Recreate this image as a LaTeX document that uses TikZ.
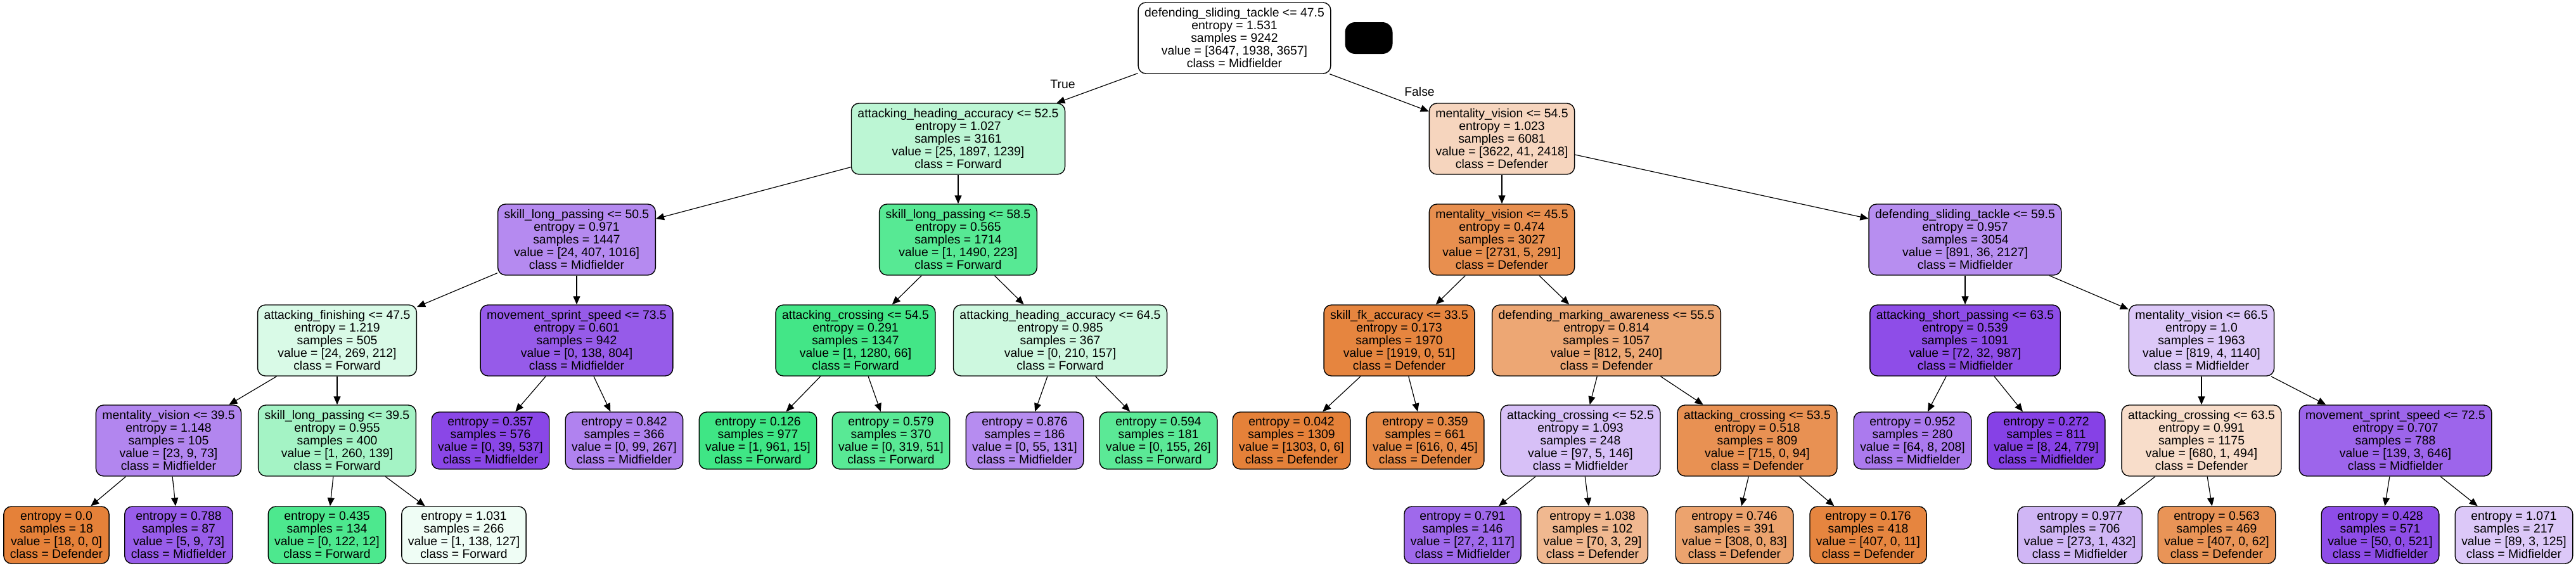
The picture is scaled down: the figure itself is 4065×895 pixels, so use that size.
\documentclass[tikz,border=0pt]{standalone}
\usepackage{fontspec}
\setmainfont{Liberation Sans}
\usepackage{tikz}
\usetikzlibrary{arrows.meta}
\definecolor{defc}{RGB}{229,129,57}
\definecolor{fwdc}{RGB}{57,229,129}
\definecolor{midc}{RGB}{129,57,229}
\newcommand\treefont{\fontsize{9.7}{10}\selectfont}
\tikzset{
  splitbox/.style={draw=black,line width=0.7pt,rounded corners=6pt,align=center,
     inner xsep=5pt,inner ysep=2pt,minimum height=56pt,font=\treefont},
  leafbox/.style={splitbox,minimum height=45pt},
  treeedge/.style={-{Triangle[length=6.5pt,width=5.5pt]},line width=0.6pt},
}

\begin{document}
\begin{tikzpicture}[x=0.5pt,y=-0.5pt]
  \useasboundingbox (0,0) rectangle (4065,895);
  % split nodes
  \foreach \nm/\xc/\yc/\col/\feat/\ent/\smp/\val/\cls in {%
     root/1948/60/midc!0!white/defending\_sliding\_tackle <= 47.5/1.531/9242/{3647, 1938, 3657}/Midfielder,
     ah52/1512/219/fwdc!34!white/attacking\_heading\_accuracy <= 52.5/1.027/3161/{25, 1897, 1239}/Forward,
     mv54/2370/219/defc!33!white/mentality\_vision <= 54.5/1.023/6081/{3622, 41, 2418}/Defender,
     slp50/910/378/midc!59!white/skill\_long\_passing <= 50.5/0.971/1447/{24, 407, 1016}/Midfielder,
     slp58/1512/378/fwdc!85!white/skill\_long\_passing <= 58.5/0.565/1714/{1, 1490, 223}/Forward,
     mv45/2370/378/defc!89!white/mentality\_vision <= 45.5/0.474/3027/{2731, 5, 291}/Defender,
     dst59/3101/378/midc!57!white/defending\_sliding\_tackle <= 59.5/0.957/3054/{891, 36, 2127}/Midfielder,
     af47/532/537/fwdc!19!white/attacking\_finishing <= 47.5/1.219/505/{24, 269, 212}/Forward,
     mss73/910/537/midc!83!white/movement\_sprint\_speed <= 73.5/0.601/942/{0, 138, 804}/Midfielder,
     ac54/1350/537/fwdc!95!white/attacking\_crossing <= 54.5/0.291/1347/{1, 1280, 66}/Forward,
     ah64/1673/537/fwdc!25!white/attacking\_heading\_accuracy <= 64.5/0.985/367/{0, 210, 157}/Forward,
     fk33/2208/537/defc!97!white/skill\_fk\_accuracy <= 33.5/0.173/1970/{1919, 0, 51}/Defender,
     dma55/2535/537/defc!70!white/defending\_marking\_awareness <= 55.5/0.814/1057/{812, 5, 240}/Defender,
     asp63/3101/537/midc!90!white/attacking\_short\_passing <= 63.5/0.539/1091/{72, 32, 987}/Midfielder,
     mv66/3474/537/midc!28!white/mentality\_vision <= 66.5/1.0/1963/{819, 4, 1140}/Midfielder,
     mv39/266/695/midc!61!white/mentality\_vision <= 39.5/1.148/105/{23, 9, 73}/Midfielder,
     slp39/532/695/fwdc!46!white/skill\_long\_passing <= 39.5/0.955/400/{1, 260, 139}/Forward,
     ac52/2494/695/midc!32!white/attacking\_crossing <= 52.5/1.093/248/{97, 5, 146}/Midfielder,
     ac53/2773/695/defc!87!white/attacking\_crossing <= 53.5/0.518/809/{715, 0, 94}/Defender,
     ac63/3474/695/defc!27!white/attacking\_crossing <= 63.5/0.991/1175/{680, 1, 494}/Defender,
     mss72/3780/695/midc!78!white/movement\_sprint\_speed <= 72.5/0.707/788/{139, 3, 646}/Midfielder}{
     \node[splitbox,fill=\col] (\nm) at (\xc,\yc)
        {\feat\\entropy = \ent\\samples = \smp\\value = [\val]\\class = \cls};
  }
  % leaves
  \foreach \nm/\xc/\yc/\col/\ent/\smp/\val/\cls in {%
     e357/774/695/midc!93!white/0.357/576/{0, 39, 537}/Midfielder,
     e842/985/695/midc!63!white/0.842/366/{0, 99, 267}/Midfielder,
     e126/1196/695/fwdc!97!white/0.126/977/{1, 961, 15}/Forward,
     e579/1406/695/fwdc!84!white/0.579/370/{0, 319, 51}/Forward,
     e876/1617/695/midc!58!white/0.876/186/{0, 55, 131}/Midfielder,
     e594/1828/695/fwdc!83!white/0.594/181/{0, 155, 26}/Forward,
     e042/2038/695/defc!100!white/0.042/1309/{1303, 0, 6}/Defender,
     e359/2249/695/defc!93!white/0.359/661/{616, 0, 45}/Defender,
     e952/3018/695/midc!67!white/0.952/280/{64, 8, 208}/Midfielder,
     e272/3229/695/midc!96!white/0.272/811/{8, 24, 779}/Midfielder,
     e000/89/844/defc!100!white/0.0/18/{18, 0, 0}/Defender,
     e788/282/844/midc!82!white/0.788/87/{5, 9, 73}/Midfielder,
     e435/516/844/fwdc!90!white/0.435/134/{0, 122, 12}/Forward,
     e1031/732/844/fwdc!8!white/1.031/266/{1, 138, 127}/Forward,
     e791/2308/844/midc!76!white/0.791/146/{27, 2, 117}/Midfielder,
     e1038/2513/844/defc!56!white/1.038/102/{70, 3, 29}/Defender,
     e746/2737/844/defc!73!white/0.746/391/{308, 0, 83}/Defender,
     e176/2948/844/defc!97!white/0.176/418/{407, 0, 11}/Defender,
     e977/3282/844/midc!37!white/0.977/706/{273, 1, 432}/Midfielder,
     e563/3498/844/defc!85!white/0.563/469/{407, 0, 62}/Defender,
     e428/3756/844/midc!90!white/0.428/571/{50, 0, 521}/Midfielder,
     e1071/3967/844/midc!28!white/1.071/217/{89, 3, 125}/Midfielder}{
     \node[leafbox,fill=\col] (\nm) at (\xc,\yc)
        {entropy = \ent\\samples = \smp\\value = [\val]\\class = \cls};
  }
  \node[fill=black,rounded corners=8pt,minimum width=37.5pt,minimum height=25pt] (blob) at (2160,60) {};
  \node[font=\treefont] (truelab) at (1677,133) {True};
  \node[font=\treefont] (falselab) at (2240,145) {False};
  % edges
  \foreach \p/\c in {root/ah52,root/mv54,ah52/slp50,ah52/slp58,mv54/mv45,mv54/dst59,
     slp50/af47,slp50/mss73,slp58/ac54,slp58/ah64,mv45/fk33,mv45/dma55,dst59/asp63,dst59/mv66,
     af47/mv39,af47/slp39,mss73/e357,mss73/e842,ac54/e126,ac54/e579,ah64/e876,ah64/e594,
     fk33/e042,fk33/e359,dma55/ac52,dma55/ac53,asp63/e952,asp63/e272,mv66/ac63,mv66/mss72,
     mv39/e000,mv39/e788,slp39/e435,slp39/e1031,ac52/e791,ac52/e1038,ac53/e746,ac53/e176,
     ac63/e977,ac63/e563,mss72/e428,mss72/e1071}{
     \draw[treeedge] (\p) -- (\c);
  }
\end{tikzpicture}
\end{document}
